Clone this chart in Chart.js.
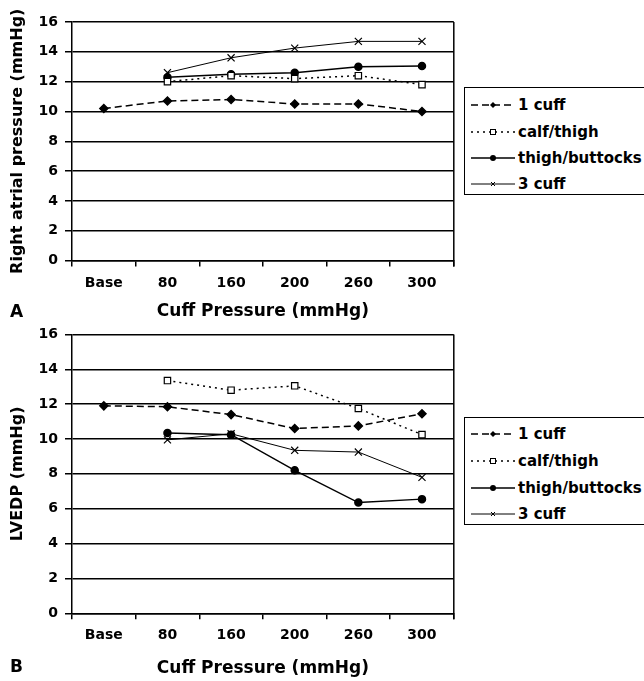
<!DOCTYPE html>
<html>
<head>
<meta charset="utf-8">
<script src="https://cdn.jsdelivr.net/npm/chart.js@4.4.1/dist/chart.umd.min.js"></script>
<style>
  body { margin: 0; background: #fff; width: 644px; height: 681px; overflow: hidden; position: relative; font-family: "DejaVu Sans", sans-serif; }
  canvas { position: absolute; left: 0; }
  #chartA { top: 0; }
  #chartB { top: 319px; }
  .panel { position: absolute; left: 10px; font-weight: bold; font-size: 17px; }
  .legend { position: absolute; left: 464px; width: 200px; height: 108px; border: 1px solid #000; box-sizing: border-box; }
  .legend .row { position: absolute; left: 6px; height: 20px; display: flex; align-items: center; font-weight: bold; font-size: 15px; }
  .legend svg { margin-right: 3px; }
</style>
</head>
<body>
<canvas id="chartA" width="460" height="322"></canvas>
<canvas id="chartB" width="460" height="362"></canvas>
<div class="panel" style="top:301px">A</div>
<div class="panel" style="top:656px">B</div>
<div class="legend" id="legendA" style="top:87px"></div>
<div class="legend" id="legendB" style="top:417px"></div>
<script>
// categories and tick labels
const categories = ["Base", "80", "160", "200", "260", "300"];
const seriesNames = ["1 cuff", "calf/thigh", "thigh/buttocks", "3 cuff"];
const yTicks = [0, 2, 4, 6, 8, 10, 12, 14, 16];

// panel A - right atrial pressure
const rapOneCuff = [10.2, 10.7, 10.8, 10.5, 10.5, 10.0];
const rapCalfThigh = [null, 12.0, 12.4, 12.2, 12.4, 11.8];
const rapThighButtocks = [null, 12.3, 12.5, 12.6, 13.0, 13.05];
const rapThreeCuff = [null, 12.6, 13.6, 14.25, 14.7, 14.7];

// panel B - LVEDP
const lvOneCuff = [11.9, 11.85, 11.4, 10.6, 10.75, 11.45];
const lvCalfThigh = [null, 13.35, 12.8, 13.05, 11.75, 10.25];
const lvThighButtocks = [null, 10.35, 10.25, 8.2, 6.35, 6.55];
const lvThreeCuff = [null, 9.95, 10.3, 9.35, 9.25, 7.8];

const styles = [
  { borderDash: [7, 4], borderWidth: 1.5, pointStyle: "rectRot", pointRadius: 4, pointBackgroundColor: "#000" },
  { borderDash: [2, 4], borderWidth: 1.5, pointStyle: "rect", pointRadius: 4.5, pointBackgroundColor: "#fff", pointBorderWidth: 1.2 },
  { borderDash: [], borderWidth: 1.5, pointStyle: "circle", pointRadius: 3.5, pointBackgroundColor: "#000" },
  { borderDash: [], borderWidth: 1, pointStyle: "crossRot", pointRadius: 5, pointBackgroundColor: "#000", pointBorderWidth: 1.2 },
];

const tickFont = { family: "DejaVu Sans", weight: "bold", size: 14 };

// right-hand frame of the plot area
const frameRight = {
  id: "frameRight",
  afterDraw(chart) {
    const { ctx, chartArea } = chart;
    const tl = chart.options.scales.x.grid.tickLength;
    ctx.save();
    ctx.strokeStyle = "#000";
    ctx.lineWidth = 1.5;
    ctx.beginPath();
    ctx.moveTo(chartArea.right, chartArea.top);
    ctx.lineTo(chartArea.right, chartArea.bottom + tl);
    ctx.stroke();
    ctx.restore();
  },
};

function makeChart(id, series, yTitle, topPad, xHeight, titleBottom) {
  const datasets = series.map((data, i) => ({
    label: seriesNames[i],
    data: data,
    borderColor: "#000",
    pointBorderColor: "#000",
    fill: false,
    tension: 0,
    ...styles[i],
  }));

  return new Chart(document.getElementById(id), {
    type: "line",
    data: { labels: categories, datasets: datasets },
    options: {
      responsive: false,
      animation: false,
      devicePixelRatio: 1,
      layout: { padding: { top: topPad, right: 5, left: 0, bottom: 0 } },
      plugins: { legend: { display: false }, tooltip: { enabled: false } },
      scales: {
        x: {
          offset: true,
          afterFit: (s) => { s.height = xHeight; },
          grid: { offset: true, drawOnChartArea: false, color: "#000", lineWidth: 1.5, tickLength: 6 },
          border: { color: "#000", width: 1.5 },
          ticks: { color: "#000", font: tickFont, padding: 8, maxRotation: 0 },
          title: { display: true, text: "Cuff Pressure (mmHg)", color: "#000", font: { family: "DejaVu Sans", weight: "bold", size: 17 }, padding: { top: 0, bottom: titleBottom } },
        },
        y: {
          min: 0,
          max: 16,
          afterFit: (s) => { s.width = 72; },
          afterBuildTicks: (s) => { s.ticks = yTicks.map((v) => ({ value: v })); },
          grid: { color: "#000", lineWidth: 1.5, tickLength: 7 },
          border: { color: "#000", width: 1.5 },
          ticks: { color: "#000", font: tickFont, padding: 7 },
          title: { display: true, text: yTitle, color: "#000", font: { family: "DejaVu Sans", weight: "bold", size: 16 }, padding: { top: 8, bottom: 0 } },
        },
      },
    },
    plugins: [frameRight],
  });
}

makeChart("chartA", [rapOneCuff, rapCalfThigh, rapThighButtocks, rapThreeCuff], "Right atrial pressure (mmHg)", 22, 61.5, 0);
makeChart("chartB", [lvOneCuff, lvCalfThigh, lvThighButtocks, lvThreeCuff], "LVEDP (mmHg)", 10, 67.7, 2);

// html legends
function sample(i) {
  const st = styles[i];
  const dash = st.borderDash.length ? `stroke-dasharray="${st.borderDash.join(",")}"` : "";
  let marker = "";
  if (i === 0) marker = '<path d="M22 7 L25 10 L22 13 L19 10 Z" fill="#000"/>';
  if (i === 1) marker = '<rect x="19.5" y="7.5" width="5" height="5" fill="#fff" stroke="#000" stroke-width="1"/>';
  if (i === 2) marker = '<circle cx="22" cy="10" r="3" fill="#000"/>';
  if (i === 3) marker = '<path d="M20 8 L24 12 M24 8 L20 12" stroke="#000" stroke-width="1"/>';
  return `<svg width="44" height="20"><line x1="0" y1="10" x2="44" y2="10" stroke="#000" stroke-width="${st.borderWidth}" ${dash}/>${marker}</svg>`;
}

function buildLegend(id, offsets) {
  const box = document.getElementById(id);
  seriesNames.forEach((name, i) => {
    const row = document.createElement("div");
    row.className = "row";
    row.style.top = (offsets[i] - 10) + "px";
    row.innerHTML = sample(i) + "<span>" + name + "</span>";
    box.appendChild(row);
  });
}

buildLegend("legendA", [17, 44, 70, 96]);
buildLegend("legendB", [16, 43, 70, 96]);
</script>
</body>
</html>
